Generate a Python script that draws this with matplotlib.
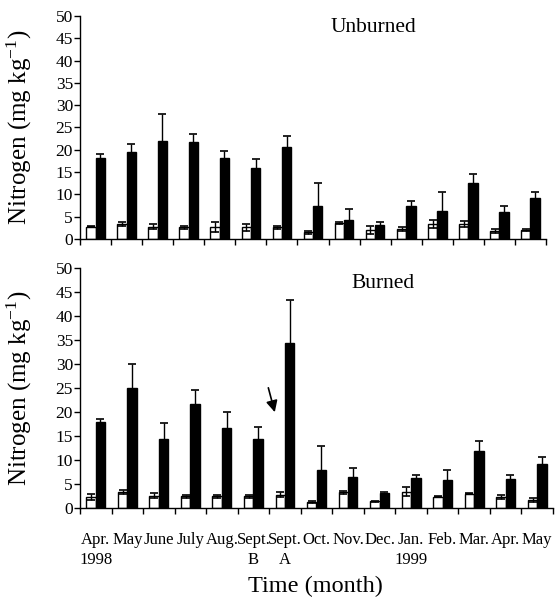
import numpy as np
import matplotlib
matplotlib.use("Agg")
import matplotlib.pyplot as plt

plt.rcParams["font.family"] = ["Liberation Serif", "DejaVu Serif"]
plt.rcParams["mathtext.fontset"] = "custom"
plt.rcParams["mathtext.rm"] = "Liberation Serif"
plt.rcParams["mathtext.it"] = "Liberation Serif:italic"

# ==========================
# Data
# ==========================
months = ["Apr.\n1998", "May", "June", "July", "Aug.", "Sept.\nB", "Sept.\nA", "Oct.",
          "Nov.", "Dec.", "Jan.\n1999", "Feb.", "Mar.", "Apr.", "May"]

unburned_white = [2.8, 3.4, 2.8, 2.6, 2.7, 2.6, 2.6, 1.5, 3.5, 2.1, 2.3, 3.4, 3.4, 1.8, 2.1]
unburned_white_err = [0.2, 0.4, 0.5, 0.4, 1.2, 0.8, 0.3, 0.3, 0.2, 0.9, 0.4, 0.9, 0.6, 0.4, 0.2]
unburned_black = [18.1, 19.6, 22.0, 21.8, 18.2, 15.9, 20.6, 7.5, 4.3, 3.1, 7.5, 6.3, 12.6, 6.1, 9.1]
unburned_black_err = [0.9, 1.7, 6.0, 1.7, 1.6, 2.0, 2.6, 5.1, 2.4, 0.6, 1.1, 4.2, 1.9, 1.2, 1.4]

burned_white = [2.3, 3.3, 2.6, 2.4, 2.4, 2.4, 2.8, 1.3, 3.3, 1.4, 3.4, 2.3, 3.0, 2.3, 1.6]
burned_white_err = [0.6, 0.4, 0.5, 0.3, 0.3, 0.3, 0.5, 0.2, 0.3, 0.1, 0.9, 0.1, 0.1, 0.4, 0.4]
burned_black = [17.9, 25.1, 14.3, 21.7, 16.7, 14.3, 34.4, 8.0, 6.5, 3.1, 6.2, 5.9, 11.8, 6.0, 9.1]
burned_black_err = [0.7, 4.9, 3.4, 2.9, 3.4, 2.6, 8.9, 4.9, 1.9, 0.3, 0.7, 2.1, 2.1, 0.9, 1.6]


# ==========================
# One panel
# ==========================
def draw_panel(ax, white, white_err, black, black_err, title, title_xy, show_labels):
    n = len(white)
    x = np.arange(n)
    w = 0.3
    ekw = dict(ecolor="black", elinewidth=1, capsize=3, capthick=1.2)
    ax.bar(x + 0.35, white, w, yerr=white_err, color="white", edgecolor="black",
           linewidth=1, error_kw=ekw, zorder=2)
    ax.bar(x + 0.65, black, w, yerr=black_err, color="black", edgecolor="black",
           linewidth=1, error_kw=ekw, zorder=2)

    ax.set_xlim(0, n)
    ax.set_ylim(0, 50)
    ax.set_yticks(np.arange(0, 51, 5))
    ax.set_xticks(np.arange(0, n + 1))
    ax.set_xticklabels([])
    ax.set_xticks(x + 0.5, minor=True)
    if show_labels:
        ax.set_xticklabels(months, minor=True, fontsize=12, linespacing=1.4)
    else:
        ax.set_xticklabels([], minor=True)
    ax.tick_params(axis="x", which="minor", length=0, pad=17)
    ax.tick_params(axis="both", which="major", direction="out", length=4, width=1,
                   labelsize=12.5)
    ax.tick_params(axis="y", pad=1)

    for s in ["top", "right"]:
        ax.spines[s].set_visible(False)
    ax.spines["left"].set_linewidth(1)
    ax.spines["bottom"].set_linewidth(1)

    ax.set_ylabel("Nitrogen (mg kg$^{-1}$)", fontsize=18)
    ax.text(title_xy[0], title_xy[1], title, ha="center", va="center", fontsize=15.5)


fig = plt.figure(figsize=(5.56, 5.99), dpi=100)

ax1 = fig.add_axes([80 / 556, 1 - 239 / 599, 466 / 556, 223 / 599])
draw_panel(ax1, unburned_white, unburned_white_err, unburned_black, unburned_black_err,
           "Unburned", (9.43, 47.5), False)
ax1.yaxis.set_label_coords(-46 / 466, 0.5)

ax2 = fig.add_axes([80 / 556, 1 - 508 / 599, 473 / 556, 240 / 599])
draw_panel(ax2, burned_white, burned_white_err, burned_black, burned_black_err,
           "Burned", (9.6, 46.8), True)
ax2.yaxis.set_label_coords(-46 / 473, 0.5)

# arrow pointing at the fire
ax2.annotate("", xy=(6.2, 19.4), xytext=(5.95, 25.6),
             arrowprops=dict(arrowstyle="-|>", color="black", lw=1.2, mutation_scale=17))

fig.text(315 / 556, 1 - 586 / 599, "Time (month)", ha="center", va="center", fontsize=17.5)

fig.savefig("out.png", dpi=100)
